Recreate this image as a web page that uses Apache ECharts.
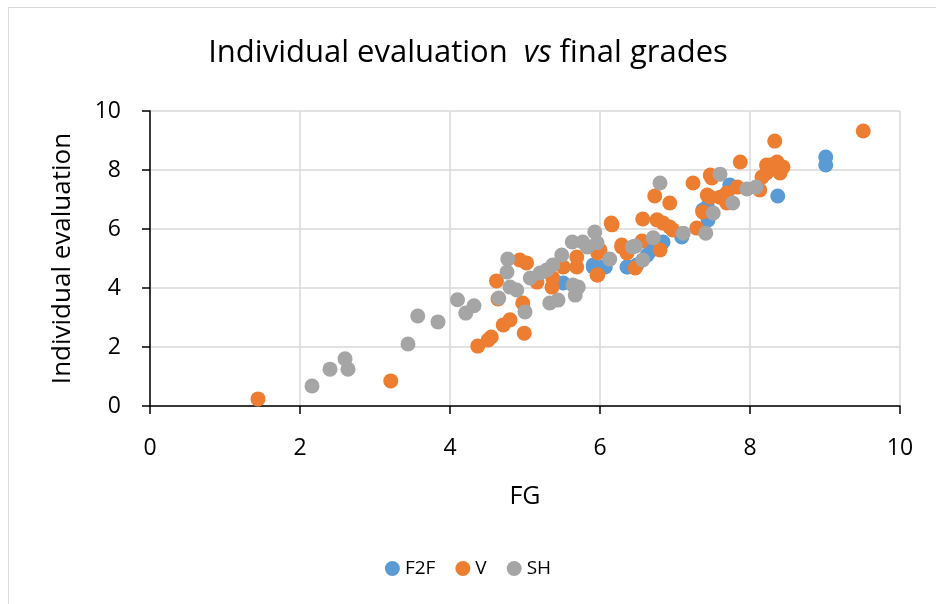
<!DOCTYPE html>
<html>
<head>
<meta charset="utf-8">
<script src="https://cdn.jsdelivr.net/npm/echarts@6/dist/echarts.min.js"></script>
<style>
  html, body { margin: 0; padding: 0; background: #fff; }
  #frame { position: absolute; left: 8px; top: 7px; width: 1000px; height: 700px; border: 1px solid #d9d9d9; }
  #main { position: absolute; left: 0; top: 0; width: 936px; height: 604px; }
</style>
</head>
<body>
<div id="frame"></div>
<div id="main"></div>
<script>
// F2F series [FG, individual evaluation]
const f2fData = [
  [9.01, 8.44], [9.01, 8.17], [8.37, 7.12], [7.76, 7.42], [7.44, 6.31], [7.37, 6.64],
  [7.43, 6.75], [7.09, 5.73], [6.84, 5.56], [6.63, 5.12], [6.69, 5.29], [6.37, 4.71],
  [6.49, 4.78], [5.91, 4.78], [6.07, 4.71], [7.73, 7.49], [5.51, 4.17], [5.91, 4.71],
  [6.04, 4.71], [6.36, 4.71]
];
// V series
const vData = [
  [1.44, 0.24], [3.21, 0.85], [4.37, 2.03], [4.51, 2.24], [4.55, 2.34], [4.71, 2.75],
  [4.8, 2.92], [4.99, 2.47], [4.97, 3.49], [4.62, 4.24], [4.64, 3.63], [4.93, 4.95],
  [5.02, 4.85], [5.16, 4.2], [5.36, 4.03], [5.37, 4.34], [5.51, 4.71], [5.69, 4.71],
  [5.69, 5.05], [5.96, 4.44], [5.97, 5.19], [6.16, 6.14], [6.29, 5.39], [6.36, 5.19],
  [6.15, 6.2], [6.0, 5.29], [5.97, 4.44], [6.47, 4.68], [6.29, 5.46], [6.56, 5.59],
  [6.57, 6.34], [6.76, 6.31], [6.8, 5.29], [6.73, 7.12], [6.93, 6.88], [6.84, 6.2],
  [6.93, 6.07], [6.97, 5.97], [7.24, 7.56], [7.29, 6.03], [7.43, 7.15], [7.47, 7.83],
  [7.37, 6.58], [7.6, 7.08], [7.69, 6.88], [7.87, 8.27], [8.22, 7.9], [8.27, 8.17],
  [9.51, 9.32], [8.33, 8.98], [8.22, 8.17], [8.36, 8.27], [8.44, 8.1], [8.4, 7.9],
  [8.16, 7.76], [8.13, 7.32], [7.49, 7.73], [7.47, 7.08], [7.69, 7.22], [7.83, 7.42]
];
// SH series
const shData = [
  [2.16, 0.68], [2.4, 1.25], [2.6, 1.6], [2.64, 1.25], [3.44, 2.1], [3.57, 3.05],
  [3.84, 2.85], [4.1, 3.6], [4.21, 3.15], [4.32, 3.4], [4.77, 4.98], [4.76, 4.54],
  [4.8, 4.03], [4.65, 3.66], [4.89, 3.93], [5.0, 3.19], [5.07, 4.34], [5.2, 4.51],
  [5.29, 4.61], [5.37, 4.78], [5.49, 5.12], [5.33, 3.49], [5.44, 3.59], [5.64, 4.1],
  [5.71, 4.03], [5.67, 3.76], [5.63, 5.56], [5.77, 5.56], [5.93, 5.9], [5.96, 5.53],
  [6.13, 4.98], [5.83, 5.39], [6.8, 7.56], [6.43, 5.39], [6.47, 5.42], [6.71, 5.7],
  [6.57, 4.95], [7.11, 5.86], [7.41, 5.86], [7.51, 6.54], [7.77, 6.88], [7.6, 7.86],
  [7.96, 7.36], [8.08, 7.42]
];
const xTicks = [0, 2, 4, 6, 8, 10];
const yTicks = [0, 2, 4, 6, 8, 10];

const font = '"Open Sans", sans-serif';
const chart = echarts.init(document.getElementById('main'));
const option = {
  animation: false,
  textStyle: { fontFamily: font },
  title: {
    text: '{n|Individual evaluation  }{i|vs}{n| final grades}',
    left: 'center',
    top: 33,
    textStyle: {
      rich: {
        n: { fontSize: 31, color: '#000', fontWeight: 'normal', fontFamily: font },
        i: { fontSize: 31, color: '#000', fontWeight: 'normal', fontStyle: 'italic', fontFamily: font }
      }
    }
  },
  legend: {
    bottom: 21,
    left: 'center',
    itemWidth: 15,
    itemHeight: 15,
    itemGap: 20,
    icon: 'circle',
    textStyle: { fontSize: 19, color: '#000', fontFamily: font },
    data: ['F2F', 'V', 'SH']
  },
  grid: { left: 150, right: 36, top: 111, bottom: 198 },
  xAxis: {
    type: 'value',
    min: xTicks[0],
    max: xTicks[xTicks.length - 1],
    interval: 2,
    name: 'FG',
    nameLocation: 'middle',
    nameGap: 78,
    nameTextStyle: { fontSize: 25, color: '#000', fontFamily: font },
    axisLine: { show: true, lineStyle: { color: '#000', width: 1.5 } },
    axisTick: { show: true, length: 8, lineStyle: { color: '#000', width: 1.5 } },
    axisLabel: { fontSize: 23, color: '#000', margin: 31, fontFamily: font },
    splitLine: { show: true, lineStyle: { color: '#d9d9d9', width: 1.5 } }
  },
  yAxis: {
    type: 'value',
    min: yTicks[0],
    max: yTicks[yTicks.length - 1],
    interval: 2,
    name: 'Individual evaluation',
    nameLocation: 'middle',
    nameGap: 74,
    nameTextStyle: { fontSize: 26, color: '#000', fontFamily: font },
    axisLine: { show: true, lineStyle: { color: '#000', width: 1.5 } },
    axisTick: { show: true, length: 8, lineStyle: { color: '#000', width: 1.5 } },
    axisLabel: { fontSize: 23, color: '#000', margin: 29, fontFamily: font },
    splitLine: { show: true, lineStyle: { color: '#d9d9d9', width: 1.5 } }
  },
  series: [
    { name: 'F2F', type: 'scatter', symbolSize: 15, itemStyle: { color: '#5B9BD5', opacity: 1 }, data: f2fData },
    { name: 'V', type: 'scatter', symbolSize: 15, itemStyle: { color: '#ED7D31', opacity: 1 }, data: vData },
    { name: 'SH', type: 'scatter', symbolSize: 15, itemStyle: { color: '#A5A5A5', opacity: 1 }, data: shData }
  ]
};
chart.setOption(option);
</script>
</body>
</html>
